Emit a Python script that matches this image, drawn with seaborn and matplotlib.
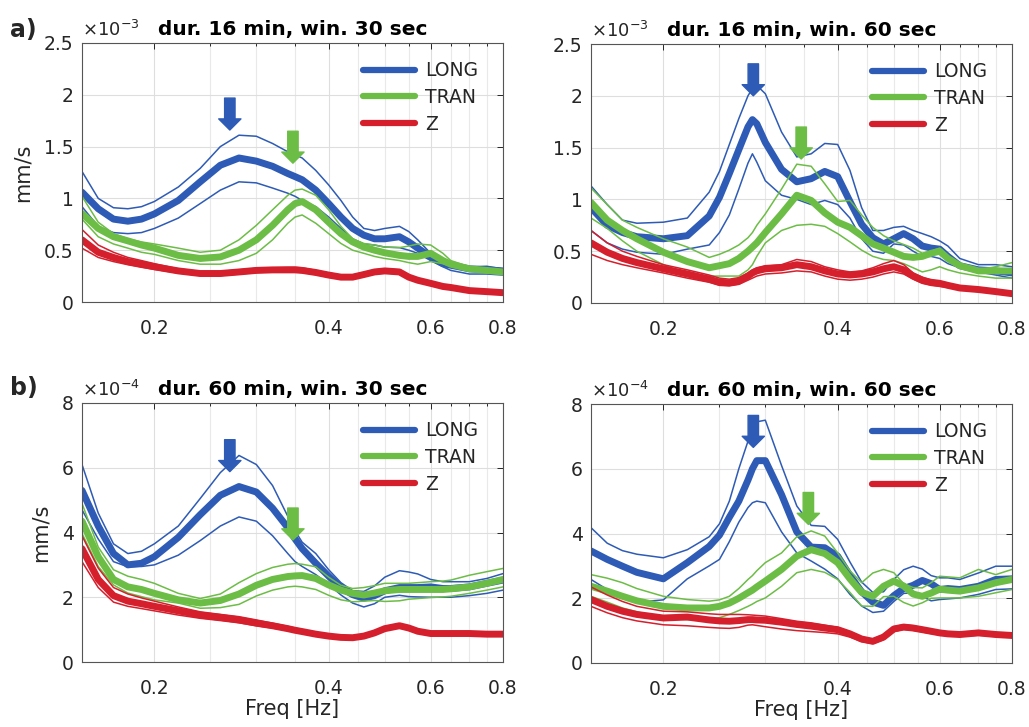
import matplotlib
matplotlib.use("Agg")
import matplotlib.pyplot as plt
from matplotlib.ticker import FixedLocator, FuncFormatter, NullFormatter
from matplotlib.lines import Line2D
import seaborn as sns

# ---- frequency grids (Hz) ----
freq_l = [0.15, 0.16, 0.17, 0.18, 0.19, 0.20, 0.22, 0.24, 0.26, 0.28, 0.30, 0.32, 0.34, 0.35, 0.36, 0.38,
          0.40, 0.42, 0.44, 0.46, 0.48, 0.50, 0.53, 0.55, 0.57, 0.60, 0.63, 0.65, 0.70, 0.75, 0.80]
freq_r = [0.15, 0.16, 0.17, 0.18, 0.20, 0.22, 0.24, 0.25, 0.26, 0.27, 0.28, 0.285, 0.29, 0.30, 0.32, 0.34,
          0.36, 0.38, 0.40, 0.42, 0.44, 0.46, 0.48, 0.50, 0.52, 0.54, 0.56, 0.58, 0.60, 0.62, 0.65, 0.70,
          0.75, 0.80]

# ---- dur. 16 min, win. 30 sec  (x 1e-3 mm/s) ----
a30_long = [1.06, 0.90, 0.80, 0.78, 0.80, 0.85, 0.98, 1.16, 1.32, 1.39, 1.36, 1.31, 1.24, 1.21, 1.18, 1.08,
            0.95, 0.82, 0.71, 0.645, 0.61, 0.61, 0.63, 0.58, 0.52, 0.435, 0.37, 0.355, 0.32, 0.31, 0.30]
a30_long_hi = [1.26, 1.00, 0.91, 0.90, 0.92, 0.97, 1.11, 1.29, 1.50, 1.61, 1.60, 1.53, 1.45, 1.42, 1.39, 1.27,
               1.13, 0.98, 0.82, 0.71, 0.69, 0.71, 0.73, 0.68, 0.60, 0.47, 0.39, 0.355, 0.34, 0.345, 0.32]
a30_long_lo = [0.92, 0.73, 0.67, 0.66, 0.67, 0.71, 0.81, 0.95, 1.08, 1.16, 1.15, 1.10, 1.05, 1.02, 0.98, 0.92,
               0.82, 0.71, 0.61, 0.56, 0.55, 0.53, 0.525, 0.50, 0.47, 0.40, 0.34, 0.305, 0.27, 0.27, 0.26]
a30_tran = [0.855, 0.71, 0.63, 0.59, 0.55, 0.52, 0.45, 0.42, 0.435, 0.50, 0.60, 0.74, 0.89, 0.95, 0.97, 0.89,
            0.77, 0.66, 0.58, 0.53, 0.50, 0.475, 0.45, 0.44, 0.44, 0.47, 0.40, 0.365, 0.32, 0.305, 0.29]
a30_tran_hi = [1.02, 0.77, 0.66, 0.61, 0.58, 0.56, 0.52, 0.48, 0.50, 0.60, 0.74, 0.89, 1.03, 1.08, 1.09, 1.03,
               0.89, 0.73, 0.61, 0.565, 0.55, 0.53, 0.525, 0.54, 0.56, 0.55, 0.47, 0.40, 0.34, 0.305, 0.305]
a30_tran_lo = [0.80, 0.63, 0.56, 0.52, 0.48, 0.46, 0.40, 0.365, 0.365, 0.40, 0.47, 0.60, 0.76, 0.82, 0.84, 0.76,
               0.66, 0.565, 0.50, 0.47, 0.44, 0.42, 0.40, 0.38, 0.365, 0.39, 0.37, 0.345, 0.305, 0.28, 0.27]
a30_z = [0.60, 0.48, 0.43, 0.39, 0.365, 0.34, 0.30, 0.275, 0.275, 0.29, 0.305, 0.31, 0.31, 0.31, 0.305, 0.285,
         0.26, 0.24, 0.24, 0.265, 0.29, 0.30, 0.29, 0.24, 0.21, 0.18, 0.15, 0.14, 0.11, 0.10, 0.09]
a30_z_hi = [0.70, 0.55, 0.48, 0.43, 0.40, 0.37, 0.32, 0.295, 0.295, 0.31, 0.325, 0.33, 0.335, 0.335, 0.33, 0.305,
            0.28, 0.26, 0.26, 0.285, 0.31, 0.32, 0.31, 0.26, 0.225, 0.195, 0.165, 0.15, 0.12, 0.105, 0.10]
a30_z_lo = [0.52, 0.43, 0.39, 0.36, 0.335, 0.315, 0.28, 0.255, 0.255, 0.27, 0.285, 0.29, 0.29, 0.29, 0.285, 0.265,
            0.24, 0.225, 0.225, 0.25, 0.27, 0.28, 0.27, 0.225, 0.195, 0.165, 0.14, 0.13, 0.10, 0.09, 0.08]

# ---- dur. 16 min, win. 60 sec  (x 1e-3 mm/s) ----
a60_long = [0.92, 0.75, 0.68, 0.64, 0.62, 0.65, 0.84, 1.02, 1.25, 1.48, 1.70, 1.77, 1.73, 1.55, 1.29, 1.17,
            1.20, 1.27, 1.22, 0.98, 0.76, 0.63, 0.57, 0.62, 0.67, 0.62, 0.55, 0.53, 0.52, 0.45, 0.36, 0.32,
            0.31, 0.29]
a60_long_hi = [1.13, 0.95, 0.80, 0.77, 0.78, 0.82, 1.07, 1.27, 1.53, 1.78, 2.00, 2.07, 2.10, 2.02, 1.65, 1.41,
               1.44, 1.54, 1.53, 1.28, 0.92, 0.70, 0.70, 0.73, 0.74, 0.70, 0.67, 0.64, 0.60, 0.55, 0.43, 0.37,
               0.37, 0.35]
a60_long_lo = [0.70, 0.58, 0.52, 0.49, 0.47, 0.52, 0.56, 0.68, 0.85, 1.10, 1.35, 1.44, 1.36, 1.18, 1.04, 1.00,
               0.95, 0.99, 0.95, 0.82, 0.62, 0.50, 0.48, 0.57, 0.56, 0.50, 0.45, 0.45, 0.43, 0.38, 0.34, 0.30,
               0.27, 0.24]
a60_tran = [0.97, 0.80, 0.70, 0.62, 0.49, 0.40, 0.34, 0.36, 0.38, 0.43, 0.50, 0.54, 0.58, 0.68, 0.86, 1.04,
            0.99, 0.87, 0.78, 0.73, 0.65, 0.57, 0.53, 0.49, 0.45, 0.44, 0.45, 0.48, 0.50, 0.43, 0.36, 0.31,
            0.31, 0.31]
a60_tran_hi = [1.11, 0.95, 0.80, 0.73, 0.62, 0.54, 0.44, 0.47, 0.51, 0.56, 0.63, 0.68, 0.75, 0.86, 1.10, 1.34,
               1.32, 1.15, 0.98, 0.99, 0.85, 0.73, 0.65, 0.60, 0.565, 0.53, 0.48, 0.50, 0.53, 0.44, 0.38, 0.32,
               0.35, 0.39]
a60_tran_lo = [0.82, 0.72, 0.60, 0.50, 0.37, 0.28, 0.26, 0.26, 0.26, 0.26, 0.32, 0.37, 0.45, 0.58, 0.70, 0.75,
               0.76, 0.74, 0.67, 0.59, 0.51, 0.45, 0.42, 0.41, 0.38, 0.34, 0.30, 0.32, 0.35, 0.32, 0.29, 0.26,
               0.24, 0.24]
a60_z = [0.58, 0.49, 0.43, 0.39, 0.33, 0.28, 0.23, 0.20, 0.195, 0.21, 0.26, 0.29, 0.31, 0.33, 0.34, 0.37,
         0.35, 0.31, 0.28, 0.27, 0.28, 0.30, 0.33, 0.35, 0.32, 0.26, 0.22, 0.20, 0.19, 0.17, 0.145, 0.13,
         0.11, 0.09]
a60_z_hi = [0.70, 0.58, 0.50, 0.45, 0.37, 0.32, 0.27, 0.24, 0.23, 0.245, 0.29, 0.32, 0.34, 0.36, 0.37, 0.42,
            0.40, 0.35, 0.32, 0.30, 0.31, 0.34, 0.38, 0.41, 0.37, 0.29, 0.25, 0.22, 0.21, 0.19, 0.16, 0.145,
            0.12, 0.10]
a60_z_lo = [0.47, 0.41, 0.37, 0.34, 0.29, 0.24, 0.20, 0.17, 0.165, 0.18, 0.22, 0.24, 0.26, 0.28, 0.29, 0.31,
            0.30, 0.26, 0.23, 0.22, 0.23, 0.25, 0.28, 0.30, 0.28, 0.23, 0.19, 0.17, 0.16, 0.15, 0.13, 0.11,
            0.10, 0.08]

# ---- dur. 60 min, win. 30 sec  (x 1e-4 mm/s) ----
b30_long = [5.3, 4.2, 3.35, 3.0, 3.05, 3.25, 3.85, 4.55, 5.15, 5.42, 5.25, 4.75, 4.15, 3.8, 3.5, 3.05,
            2.65, 2.3, 2.08, 1.97, 2.05, 2.2, 2.3, 2.3, 2.3, 2.32, 2.27, 2.27, 2.32, 2.43, 2.53]
b30_long_hi = [6.1, 4.6, 3.65, 3.35, 3.42, 3.65, 4.2, 5.05, 5.85, 6.38, 6.1, 5.45, 4.5, 4.05, 3.7, 3.35,
               2.85, 2.45, 2.2, 2.18, 2.35, 2.62, 2.82, 2.78, 2.72, 2.55, 2.48, 2.48, 2.48, 2.58, 2.73]
b30_long_lo = [4.7, 3.8, 3.1, 2.94, 2.95, 3.0, 3.3, 3.75, 4.2, 4.48, 4.35, 3.9, 3.35, 3.1, 2.95, 2.7,
               2.4, 2.07, 1.82, 1.7, 1.8, 2.0, 2.06, 2.02, 2.01, 2.0, 2.0, 2.0, 2.05, 2.12, 2.22]
b30_tran = [4.35, 3.25, 2.55, 2.32, 2.24, 2.12, 1.92, 1.82, 1.9, 2.1, 2.37, 2.55, 2.64, 2.66, 2.67, 2.58,
            2.38, 2.22, 2.12, 2.07, 2.13, 2.2, 2.24, 2.24, 2.24, 2.24, 2.24, 2.26, 2.32, 2.43, 2.55]
b30_tran_hi = [4.9, 3.55, 2.85, 2.65, 2.55, 2.43, 2.12, 1.96, 2.1, 2.45, 2.73, 2.92, 3.02, 3.04, 3.02, 2.94,
               2.62, 2.37, 2.27, 2.3, 2.36, 2.43, 2.43, 2.43, 2.45, 2.48, 2.5, 2.53, 2.68, 2.79, 2.89]
b30_tran_lo = [3.97, 2.95, 2.38, 2.13, 2.02, 1.92, 1.82, 1.66, 1.68, 1.78, 2.04, 2.22, 2.32, 2.34, 2.32, 2.24,
               2.06, 1.92, 1.86, 1.88, 1.9, 1.87, 1.89, 1.94, 1.96, 1.99, 2.01, 2.03, 2.12, 2.22, 2.32]
b30_z = [3.5, 2.55, 2.05, 1.88, 1.8, 1.72, 1.58, 1.45, 1.38, 1.3, 1.2, 1.12, 1.03, 0.98, 0.94, 0.86,
         0.8, 0.76, 0.75, 0.8, 0.9, 1.03, 1.12, 1.05, 0.95, 0.88, 0.88, 0.88, 0.88, 0.86, 0.86]
b30_z_hi = [3.9, 2.9, 2.3, 2.1, 1.98, 1.88, 1.7, 1.55, 1.47, 1.4, 1.3, 1.2, 1.1, 1.05, 1.0, 0.92,
            0.85, 0.81, 0.8, 0.85, 0.96, 1.09, 1.18, 1.11, 1.0, 0.93, 0.92, 0.92, 0.92, 0.9, 0.9]
b30_z_lo = [3.1, 2.3, 1.85, 1.72, 1.65, 1.58, 1.45, 1.35, 1.28, 1.21, 1.12, 1.05, 0.97, 0.93, 0.89, 0.81,
            0.76, 0.72, 0.71, 0.76, 0.86, 0.98, 1.07, 1.0, 0.91, 0.84, 0.84, 0.84, 0.84, 0.82, 0.82]

# ---- dur. 60 min, win. 60 sec  (x 1e-4 mm/s) ----
b60_long = [3.46, 3.2, 2.99, 2.8, 2.6, 3.1, 3.6, 3.95, 4.5, 5.0, 5.65, 6.0, 6.25, 6.25, 5.2, 4.05,
            3.58, 3.56, 3.3, 2.7, 2.2, 1.88, 1.78, 2.08, 2.3, 2.4, 2.55, 2.45, 2.27, 2.3, 2.27, 2.37,
            2.58, 2.6]
b60_long_hi = [4.18, 3.7, 3.47, 3.36, 3.25, 3.5, 3.9, 4.3, 5.0, 6.0, 6.85, 7.2, 7.45, 7.5, 6.1, 4.85,
               4.25, 4.22, 3.82, 3.12, 2.5, 2.18, 2.2, 2.58, 2.88, 2.99, 2.9, 2.7, 2.63, 2.63, 2.58, 2.78,
               2.99, 2.99]
b60_long_lo = [2.58, 2.27, 2.06, 1.88, 1.95, 2.6, 3.0, 3.2, 3.75, 4.35, 4.8, 4.95, 5.0, 4.95, 4.05, 3.4,
               3.15, 2.9, 2.6, 2.12, 1.76, 1.56, 1.6, 1.9, 2.15, 2.17, 2.06, 1.92, 1.96, 1.98, 2.01, 2.12,
               2.27, 2.29]
b60_tran = [2.37, 2.22, 2.06, 1.92, 1.75, 1.7, 1.7, 1.75, 1.85, 2.0, 2.17, 2.25, 2.35, 2.53, 2.89, 3.3,
            3.5, 3.38, 3.1, 2.6, 2.18, 2.06, 2.37, 2.53, 2.38, 2.13, 2.06, 2.16, 2.28, 2.25, 2.22, 2.32,
            2.48, 2.58]
b60_tran_hi = [2.73, 2.62, 2.48, 2.3, 2.06, 1.96, 1.91, 1.95, 2.06, 2.3, 2.58, 2.7, 2.85, 3.1, 3.4, 3.9,
               4.08, 3.92, 3.4, 2.85, 2.48, 2.78, 2.89, 2.79, 2.45, 2.33, 2.32, 2.48, 2.68, 2.66, 2.63, 2.89,
               2.73, 2.89]
b60_tran_lo = [2.06, 1.88, 1.7, 1.58, 1.39, 1.34, 1.34, 1.4, 1.5, 1.62, 1.75, 1.82, 1.9, 2.01, 2.37, 2.79,
               2.89, 2.8, 2.58, 2.18, 1.76, 1.75, 2.05, 2.06, 1.87, 1.76, 1.86, 2.0, 2.01, 2.01, 2.01, 2.06,
               2.17, 2.27]
b60_z = [1.96, 1.75, 1.6, 1.5, 1.39, 1.42, 1.33, 1.3, 1.29, 1.31, 1.34, 1.34, 1.33, 1.32, 1.26, 1.19,
         1.14, 1.08, 1.03, 0.9, 0.74, 0.67, 0.8, 1.05, 1.11, 1.08, 1.03, 0.98, 0.93, 0.9, 0.88, 0.93,
         0.88, 0.85]
b60_z_hi = [2.35, 2.1, 1.9, 1.75, 1.6, 1.58, 1.52, 1.5, 1.5, 1.5, 1.49, 1.48, 1.47, 1.45, 1.37, 1.29,
            1.24, 1.17, 1.1, 0.96, 0.8, 0.73, 0.88, 1.12, 1.18, 1.15, 1.09, 1.03, 0.98, 0.95, 0.93, 0.98,
            0.93, 0.9]
b60_z_lo = [1.75, 1.55, 1.4, 1.3, 1.18, 1.15, 1.1, 1.08, 1.07, 1.1, 1.17, 1.18, 1.16, 1.12, 1.05, 1.0,
            0.97, 0.94, 0.9, 0.8, 0.66, 0.6, 0.72, 0.97, 1.04, 1.01, 0.96, 0.91, 0.87, 0.84, 0.82, 0.86,
            0.82, 0.8]

# arrow tips (freq, value) marking the LONG and TRAN peaks
a30_arrows = [(0.270, 1.66), (0.347, 1.34)]
a60_arrows = [(0.286, 2.00), (0.346, 1.39)]
b30_arrows = [(0.270, 5.88), (0.347, 3.77)]
b60_arrows = [(0.286, 6.66), (0.356, 4.28)]

titles = ["dur. 16 min, win. 30 sec", "dur. 16 min, win. 60 sec",
          "dur. 60 min, win. 30 sec", "dur. 60 min, win. 60 sec"]
components = ["LONG", "TRAN", "Z"]
colors = {"LONG": "#2d5bb6", "TRAN": "#6cbd45", "Z": "#d51f2d"}

x_minor = [0.25, 0.3, 0.35, 0.45, 0.5, 0.55, 0.65, 0.7, 0.75]

panels = [
    dict(rect=[82, 43, 421, 259], freq=freq_l, exp=-3, ylim=2.5, yticks=[0, 0.5, 1, 1.5, 2, 2.5],
         LONG=(a30_long, a30_long_hi, a30_long_lo), TRAN=(a30_tran, a30_tran_hi, a30_tran_lo),
         Z=(a30_z, a30_z_hi, a30_z_lo), arrows=a30_arrows, ylabel=True, xlabel=False),
    dict(rect=[591, 44, 421, 259], freq=freq_r, exp=-3, ylim=2.5, yticks=[0, 0.5, 1, 1.5, 2, 2.5],
         LONG=(a60_long, a60_long_hi, a60_long_lo), TRAN=(a60_tran, a60_tran_hi, a60_tran_lo),
         Z=(a60_z, a60_z_hi, a60_z_lo), arrows=a60_arrows, ylabel=False, xlabel=False),
    dict(rect=[82, 403, 421, 259], freq=freq_l, exp=-4, ylim=8, yticks=[0, 2, 4, 6, 8],
         LONG=(b30_long, b30_long_hi, b30_long_lo), TRAN=(b30_tran, b30_tran_hi, b30_tran_lo),
         Z=(b30_z, b30_z_hi, b30_z_lo), arrows=b30_arrows, ylabel=True, xlabel=True),
    dict(rect=[591, 404, 421, 259], freq=freq_r, exp=-4, ylim=8, yticks=[0, 2, 4, 6, 8],
         LONG=(b60_long, b60_long_hi, b60_long_lo), TRAN=(b60_tran, b60_tran_hi, b60_tran_lo),
         Z=(b60_z, b60_z_hi, b60_z_lo), arrows=b60_arrows, ylabel=False, xlabel=True),
]

sns.set_style("white")
plt.rcParams["font.family"] = ["DejaVu Sans"]
plt.rcParams["mathtext.fontset"] = "dejavusans"

W, H = 1029, 727
fig = plt.figure(figsize=(W / 100, H / 100), dpi=100)
fmt = FuncFormatter(lambda v, p: f"{v:g}")
text_col = "#262626"

for i, p in enumerate(panels):
    l, t, w, h = p["rect"]
    ax = fig.add_axes([l / W, 1 - (t + h) / H, w / W, h / H])

    for comp in components:
        mean, hi, lo = p[comp]
        c = colors[comp]
        sns.lineplot(x=p["freq"], y=hi, ax=ax, color=c, linewidth=1.1)
        sns.lineplot(x=p["freq"], y=lo, ax=ax, color=c, linewidth=1.1)
        sns.lineplot(x=p["freq"], y=mean, ax=ax, color=c, linewidth=5)

    # peak arrows
    for (f, y), comp in zip(p["arrows"], ["LONG", "TRAN"]):
        ax.annotate("", xy=(f, y), xytext=(0, 23), textcoords="offset points",
                    arrowprops=dict(width=7.5, headwidth=16, headlength=8, shrink=0,
                                    facecolor=colors[comp], edgecolor=colors[comp]))

    ax.set_xscale("log")
    ax.set_xlim(0.15, 0.8)
    ax.set_ylim(0, p["ylim"])
    ax.xaxis.set_major_locator(FixedLocator([0.2, 0.4, 0.6, 0.8]))
    ax.xaxis.set_major_formatter(fmt)
    ax.xaxis.set_minor_locator(FixedLocator(x_minor))
    ax.xaxis.set_minor_formatter(NullFormatter())
    ax.yaxis.set_major_locator(FixedLocator(p["yticks"]))
    ax.yaxis.set_major_formatter(fmt)

    ax.grid(which="major", color="#dedede", linewidth=0.8)
    ax.grid(which="minor", axis="x", color="#e9e9e9", linewidth=0.8)
    ax.set_axisbelow(True)
    ax.tick_params(which="both", direction="in", top=True, right=True, color=text_col,
                   labelcolor=text_col, labelsize=13.5, width=0.7)
    ax.tick_params(which="major", length=4.5)
    ax.tick_params(which="minor", length=2.5)
    ax.tick_params(axis="x", pad=12)
    ax.tick_params(axis="y", pad=6)
    for s in ax.spines.values():
        s.set_color("#555555")
        s.set_linewidth(0.8)

    ax.set_title(titles[i], fontsize=14.5, fontweight="bold", pad=6, color="black")
    ax.text(0, 1.012, rf"$\times10^{{{p['exp']}}}$", transform=ax.transAxes,
            ha="left", va="bottom", fontsize=13, color=text_col)

    ax.set_ylabel("mm/s" if p["ylabel"] else "", fontsize=15, color=text_col, labelpad=8)
    ax.set_xlabel("Freq [Hz]" if p["xlabel"] else "", fontsize=15, color=text_col, labelpad=1)

    handles = [Line2D([], [], color=colors[c], linewidth=4.5) for c in components]
    ax.legend(handles, components, loc="upper left", bbox_to_anchor=(0.667, 0.93),
              frameon=False, fontsize=13.5, handlelength=2.8, handletextpad=0.5,
              labelspacing=0.42, borderaxespad=0, borderpad=0)

fig.text(10 / W, 1 - 30 / H, "a)", fontsize=17, fontweight="bold", va="center", ha="left")
fig.text(10 / W, 1 - 388 / H, "b)", fontsize=17, fontweight="bold", va="center", ha="left")

fig.savefig("out.png", dpi=100, facecolor="white")
